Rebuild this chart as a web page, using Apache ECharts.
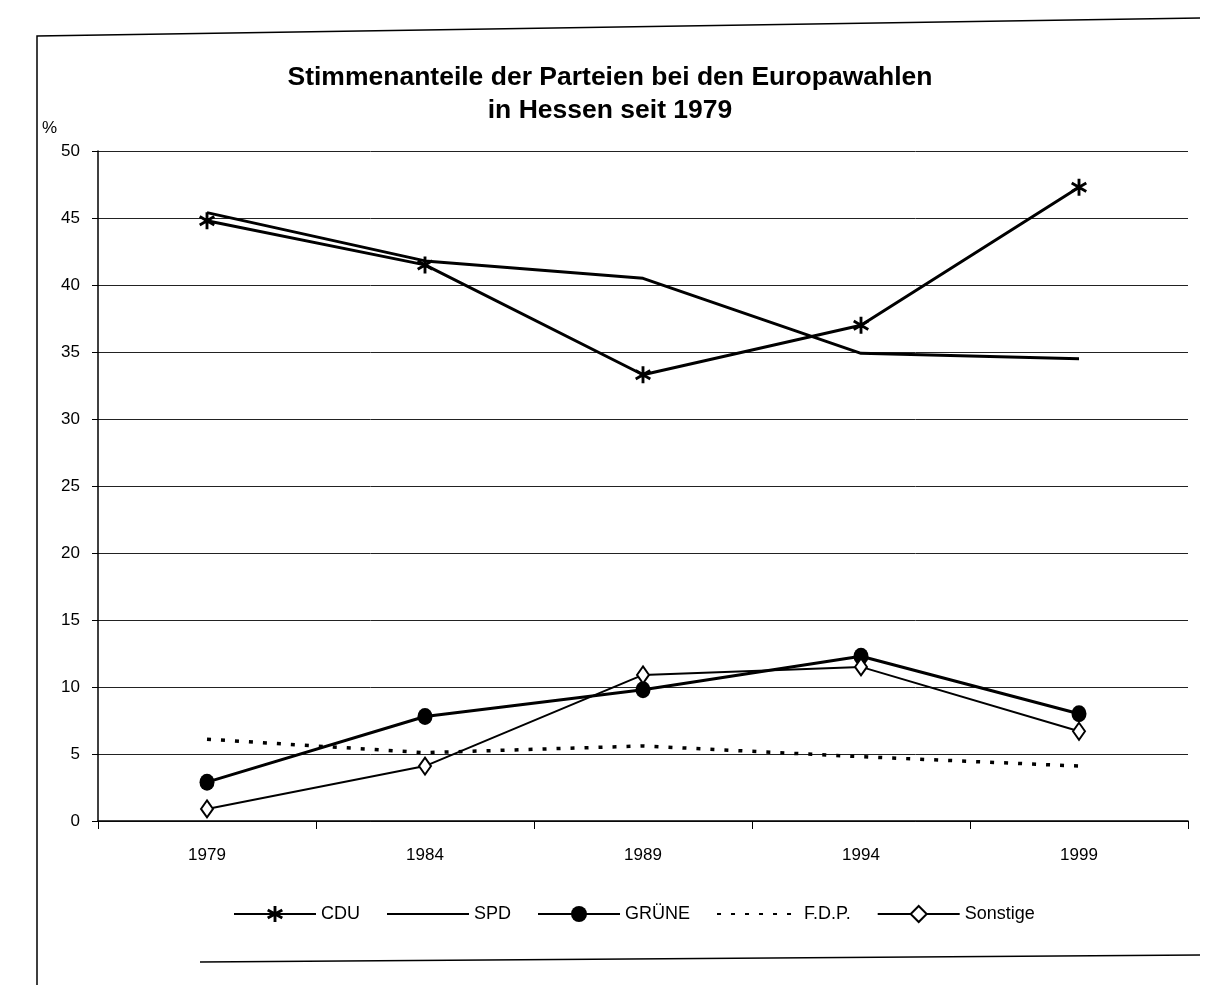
<!DOCTYPE html>
<html>
<head>
<meta charset="utf-8">
<script src="https://cdn.jsdelivr.net/npm/echarts@6/dist/echarts.min.js"></script>
<style>
  html, body { margin: 0; padding: 0; background: #fff; }
  #chart { width: 1220px; height: 990px; }
</style>
</head>
<body>
<div id="chart"></div>
<script>
// Stimmenanteile in %
const years = ['1979', '1984', '1989', '1994', '1999'];
const cdu = [44.8, 41.5, 33.3, 37.0, 47.3];
const spd = [45.4, 41.8, 40.5, 34.9, 34.5];
const gruene = [2.9, 7.8, 9.8, 12.3, 8.0];
const fdp = [6.1, 5.1, 5.6, 4.8, 4.1];
const sonstige = [0.9, 4.1, 10.9, 11.5, 6.7];

const font = '"Liberation Sans", Arial, sans-serif';
const star = 'path://M-1.7,-10L1.7,-10L1.7,10L-1.7,10Z M7.81,-6.47L9.51,-3.53L-7.81,6.47L-9.51,3.53Z M-9.51,-3.53L-7.81,-6.47L9.51,3.53L7.81,6.47Z';

const chart = echarts.init(document.getElementById('chart'));
chart.setOption({
  backgroundColor: '#fff',
  animation: false,
  textStyle: { fontFamily: font, color: '#000' },
  title: {
    text: 'Stimmenanteile der Parteien bei den Europawahlen\nin Hessen seit 1979',
    left: 'center',
    top: 56,
    textStyle: { fontFamily: font, fontSize: 26.5, fontWeight: 'bold', color: '#000', lineHeight: 33 }
  },
  graphic: [
    { type: 'text', left: 42, top: 120, style: { text: '%', font: '17px ' + font, fill: '#000' } },
    { type: 'polyline', shape: { points: [[37, 985], [37, 36], [1200, 18]] }, style: { stroke: '#000', lineWidth: 1.5, fill: null } },
    { type: 'line', shape: { x1: 200, y1: 962, x2: 1200, y2: 955 }, style: { stroke: '#000', lineWidth: 1.5 } }
  ],
  legend: {
    left: 228,
    top: 900,
    itemWidth: 82,
    itemHeight: 20,
    itemGap: 26,
    textStyle: { fontFamily: font, fontSize: 18, color: '#000' },
    data: [
      { name: 'CDU' },
      { name: 'SPD', itemStyle: { opacity: 0 } },
      { name: 'GRÜNE' },
      { name: 'F.D.P.', itemStyle: { opacity: 0 } },
      { name: 'Sonstige' }
    ]
  },
  grid: { left: 98, right: 32, top: 151, bottom: 169 },
  xAxis: {
    type: 'category',
    data: years,
    boundaryGap: true,
    axisLine: { lineStyle: { color: '#000', width: 1.5 } },
    axisTick: { show: true, length: 8, lineStyle: { color: '#000' } },
    axisLabel: { margin: 26, fontSize: 17, color: '#000', fontFamily: font }
  },
  yAxis: {
    type: 'value',
    min: 0,
    max: 50,
    interval: 5,
    axisLine: { show: true, lineStyle: { color: '#000', width: 1.5 } },
    axisTick: { show: true, length: 6, lineStyle: { color: '#000' } },
    axisLabel: { margin: 18, fontSize: 17, color: '#000', fontFamily: font },
    splitLine: { lineStyle: { color: '#222', width: 1 } }
  },
  series: [
    {
      name: 'CDU', type: 'line', data: cdu,
      symbol: star, symbolSize: [16, 17],
      itemStyle: { color: '#000' },
      lineStyle: { color: '#000', width: 3 }
    },
    {
      name: 'SPD', type: 'line', data: spd,
      symbol: 'none',
      itemStyle: { color: '#000' },
      lineStyle: { color: '#000', width: 3 }
    },
    {
      name: 'GRÜNE', type: 'line', data: gruene,
      symbol: 'circle', symbolSize: [15, 17],
      itemStyle: { color: '#000' },
      lineStyle: { color: '#000', width: 3 }
    },
    {
      name: 'F.D.P.', type: 'line', data: fdp,
      symbol: 'none',
      itemStyle: { color: '#000' },
      lineStyle: { color: '#000', width: 3.5, type: [4, 10], cap: 'butt' }
    },
    {
      name: 'Sonstige', type: 'line', data: sonstige,
      symbol: 'diamond', symbolSize: [12, 17],
      itemStyle: { color: '#fff', borderColor: '#000', borderWidth: 2 },
      lineStyle: { color: '#000', width: 2 }
    }
  ]
});
</script>
</body>
</html>
